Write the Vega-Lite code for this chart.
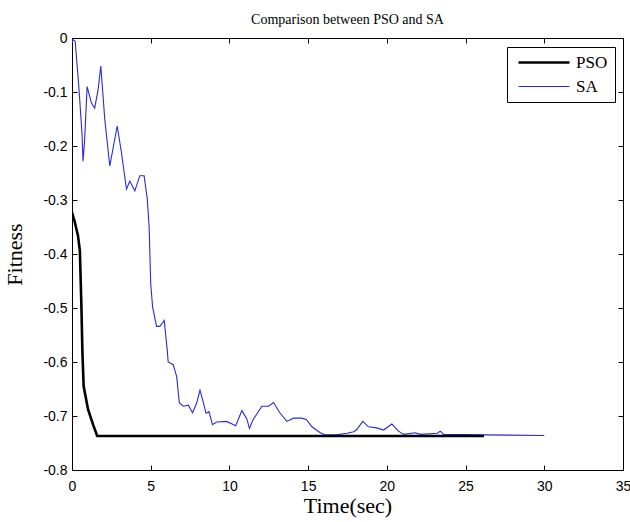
{
  "$schema": "https://vega.github.io/schema/vega-lite/v6.json",
  "width": 551,
  "height": 432,
  "autosize": {"type": "none"},
  "padding": {"left": 72, "top": 38, "right": 7, "bottom": 52},
  "background": "white",
  "title": {"text": "Comparison between PSO and SA", "font": "Liberation Serif", "fontSize": 14, "fontWeight": "normal", "color": "black", "offset": 4, "anchor": "middle"},
  "config": {
    "view": {"stroke": "black", "strokeWidth": 1},
    "axis": {"domainColor": "black", "tickColor": "black", "labelColor": "black", "titleColor": "black", "grid": false, "labelFont": "Liberation Sans", "labelFontSize": 14, "titleFont": "Liberation Serif", "titleFontSize": 22, "titleFontWeight": "normal"}
  },
  "datasets": {
    "curves": [
      {"series": "SA", "t": 0.0, "fitness": -0.009},
      {"series": "SA", "t": 0.06, "fitness": -0.003},
      {"series": "SA", "t": 0.2, "fitness": -0.006},
      {"series": "SA", "t": 0.38, "fitness": -0.07},
      {"series": "SA", "t": 0.49, "fitness": -0.114},
      {"series": "SA", "t": 0.64, "fitness": -0.18},
      {"series": "SA", "t": 0.7, "fitness": -0.228},
      {"series": "SA", "t": 0.8, "fitness": -0.19},
      {"series": "SA", "t": 0.96, "fitness": -0.09},
      {"series": "SA", "t": 1.23, "fitness": -0.12},
      {"series": "SA", "t": 1.44, "fitness": -0.13},
      {"series": "SA", "t": 1.66, "fitness": -0.095},
      {"series": "SA", "t": 1.83, "fitness": -0.052},
      {"series": "SA", "t": 2.08, "fitness": -0.15},
      {"series": "SA", "t": 2.4, "fitness": -0.237},
      {"series": "SA", "t": 2.87, "fitness": -0.163},
      {"series": "SA", "t": 3.14, "fitness": -0.212},
      {"series": "SA", "t": 3.46, "fitness": -0.28},
      {"series": "SA", "t": 3.67, "fitness": -0.265},
      {"series": "SA", "t": 3.99, "fitness": -0.283},
      {"series": "SA", "t": 4.31, "fitness": -0.255},
      {"series": "SA", "t": 4.58, "fitness": -0.255},
      {"series": "SA", "t": 4.78, "fitness": -0.298},
      {"series": "SA", "t": 4.9, "fitness": -0.35},
      {"series": "SA", "t": 5.0, "fitness": -0.455},
      {"series": "SA", "t": 5.12, "fitness": -0.498},
      {"series": "SA", "t": 5.37, "fitness": -0.534},
      {"series": "SA", "t": 5.58, "fitness": -0.534},
      {"series": "SA", "t": 5.86, "fitness": -0.523},
      {"series": "SA", "t": 6.05, "fitness": -0.578},
      {"series": "SA", "t": 6.11, "fitness": -0.6},
      {"series": "SA", "t": 6.43, "fitness": -0.605},
      {"series": "SA", "t": 6.65, "fitness": -0.627},
      {"series": "SA", "t": 6.82, "fitness": -0.676},
      {"series": "SA", "t": 7.07, "fitness": -0.682},
      {"series": "SA", "t": 7.39, "fitness": -0.68},
      {"series": "SA", "t": 7.66, "fitness": -0.694},
      {"series": "SA", "t": 7.92, "fitness": -0.676},
      {"series": "SA", "t": 8.13, "fitness": -0.652},
      {"series": "SA", "t": 8.3, "fitness": -0.67},
      {"series": "SA", "t": 8.51, "fitness": -0.695},
      {"series": "SA", "t": 8.7, "fitness": -0.692},
      {"series": "SA", "t": 8.92, "fitness": -0.716},
      {"series": "SA", "t": 9.19, "fitness": -0.711},
      {"series": "SA", "t": 9.83, "fitness": -0.71},
      {"series": "SA", "t": 10.4, "fitness": -0.718},
      {"series": "SA", "t": 10.79, "fitness": -0.69},
      {"series": "SA", "t": 11.1, "fitness": -0.705},
      {"series": "SA", "t": 11.27, "fitness": -0.723},
      {"series": "SA", "t": 11.5, "fitness": -0.707},
      {"series": "SA", "t": 12.06, "fitness": -0.682},
      {"series": "SA", "t": 12.48, "fitness": -0.682},
      {"series": "SA", "t": 12.8, "fitness": -0.675},
      {"series": "SA", "t": 13.2, "fitness": -0.694},
      {"series": "SA", "t": 13.65, "fitness": -0.71},
      {"series": "SA", "t": 14.07, "fitness": -0.704},
      {"series": "SA", "t": 14.6, "fitness": -0.704},
      {"series": "SA", "t": 14.9, "fitness": -0.707},
      {"series": "SA", "t": 15.24, "fitness": -0.72},
      {"series": "SA", "t": 15.77, "fitness": -0.731},
      {"series": "SA", "t": 16.1, "fitness": -0.735},
      {"series": "SA", "t": 16.8, "fitness": -0.735},
      {"series": "SA", "t": 17.47, "fitness": -0.732},
      {"series": "SA", "t": 17.9, "fitness": -0.729},
      {"series": "SA", "t": 18.09, "fitness": -0.725},
      {"series": "SA", "t": 18.47, "fitness": -0.71},
      {"series": "SA", "t": 18.83, "fitness": -0.72},
      {"series": "SA", "t": 19.36, "fitness": -0.722},
      {"series": "SA", "t": 19.79, "fitness": -0.726},
      {"series": "SA", "t": 20.32, "fitness": -0.715},
      {"series": "SA", "t": 20.74, "fitness": -0.728},
      {"series": "SA", "t": 21.06, "fitness": -0.734},
      {"series": "SA", "t": 21.8, "fitness": -0.731},
      {"series": "SA", "t": 22.13, "fitness": -0.734},
      {"series": "SA", "t": 23.2, "fitness": -0.732},
      {"series": "SA", "t": 23.4, "fitness": -0.728},
      {"series": "SA", "t": 23.6, "fitness": -0.734},
      {"series": "SA", "t": 26.17, "fitness": -0.735},
      {"series": "SA", "t": 30.0, "fitness": -0.736},
      {"series": "PSO", "t": 0.0, "fitness": -0.323},
      {"series": "PSO", "t": 0.17, "fitness": -0.34},
      {"series": "PSO", "t": 0.38, "fitness": -0.366},
      {"series": "PSO", "t": 0.5, "fitness": -0.394},
      {"series": "PSO", "t": 0.6, "fitness": -0.5},
      {"series": "PSO", "t": 0.66, "fitness": -0.58},
      {"series": "PSO", "t": 0.74, "fitness": -0.645},
      {"series": "PSO", "t": 1.02, "fitness": -0.688},
      {"series": "PSO", "t": 1.34, "fitness": -0.716},
      {"series": "PSO", "t": 1.6, "fitness": -0.737},
      {"series": "PSO", "t": 10.0, "fitness": -0.737},
      {"series": "PSO", "t": 20.0, "fitness": -0.737},
      {"series": "PSO", "t": 26.17, "fitness": -0.737}
    ]
  },
  "data": {"name": "curves"},
  "layer": [
    {
      "mark": {"type": "line", "clip": true},
      "encoding": {
        "x": {"field": "t", "type": "quantitative", "scale": {"domain": [0, 35], "nice": false, "zero": false},
              "axis": {"title": "Time(sec)", "values": [0, 5, 10, 15, 20, 25, 30, 35], "tickSize": -5, "labelPadding": 14, "titlePadding": 2, "labelFlush": false, "labelOverlap": false}},
        "y": {"field": "fitness", "type": "quantitative", "scale": {"domain": [-0.8, 0], "nice": false, "zero": false},
              "axis": {"title": "Fitness", "values": [-0.8, -0.7, -0.6, -0.5, -0.4, -0.3, -0.2, -0.1, 0], "tickSize": -5, "labelPadding": 10, "titlePadding": 16, "labelFlush": false, "labelOverlap": false,
                       "labelExpr": "replace(format(datum.value, '.1~f'), '−', '-')"}},
        "color": {"field": "series", "type": "nominal", "scale": {"domain": ["PSO", "SA"], "range": ["#000000", "#2a2ad8"]},
                  "legend": {"title": null, "orient": "none", "legendX": 435, "legendY": 9, "strokeColor": "black", "fillColor": "white", "padding": 7,
                             "symbolType": "M-0.8,0H9.4", "symbolSize": 100, "labelFont": "Liberation Serif", "labelFontSize": 17, "labelColor": "black", "labelOffset": 45, "rowPadding": 6, "cornerRadius": 0}},
        "strokeWidth": {"field": "series", "type": "nominal", "scale": {"domain": ["PSO", "SA"], "range": [2.6, 1.1]},
                  "legend": {"title": null, "orient": "none", "legendX": 435, "legendY": 9, "strokeColor": "black", "fillColor": "white", "padding": 7,
                             "symbolType": "M-0.8,0H9.4", "symbolSize": 100, "labelFont": "Liberation Serif", "labelFontSize": 17, "labelColor": "black", "labelOffset": 45, "rowPadding": 6, "cornerRadius": 0}}
      }
    },
    {
      "mark": {"type": "line", "opacity": 0},
      "encoding": {
        "x": {"field": "t", "type": "quantitative", "axis": {"orient": "top", "title": null, "labels": false, "values": [0, 5, 10, 15, 20, 25, 30, 35], "tickSize": -5}},
        "y": {"field": "fitness", "type": "quantitative", "axis": {"orient": "right", "title": null, "labels": false, "values": [-0.8, -0.7, -0.6, -0.5, -0.4, -0.3, -0.2, -0.1, 0], "tickSize": -5}},
        "detail": {"field": "series"}
      }
    }
  ],
  "resolve": {"axis": {"x": "independent", "y": "independent"}}
}
